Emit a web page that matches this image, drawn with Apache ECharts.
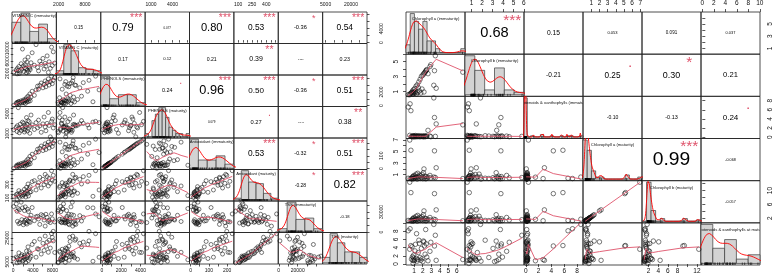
<!DOCTYPE html>
<html>
<head>
<meta charset="utf-8">
<title>chart.Correlation</title>
<script src="https://cdn.jsdelivr.net/npm/echarts@6.0.0/dist/echarts.min.js"></script>
<style>
  html, body { margin: 0; padding: 0; background: #ffffff; }
  #chart { width: 773px; height: 277px; }
</style>
</head>
<body>
<div id="chart"></div>
<script>
// ---------- left matrix: fruit quality, 45 samples ----------
const fruitNames = [
  'VITAMIN C (immaturity)', 'VITAMIN C (maturity)', 'PHENOLS (immaturity)', 'PHENOLS (maturity)',
  'Antioxidant (immaturity)', 'Antioxidant (maturity)', 'TSS (immaturity)', 'TSS (maturity)'
];
const vitcImm = [80, 620, 780, 850, 1020, 1150, 1240, 1420, 1610, 1750, 1880, 2060, 2150, 2280, 2390,
  2450, 2560, 2700, 2780, 2900, 3010, 3100, 3250, 3380, 3450, 3620, 3850, 4300, 4650, 4950,
  5150, 5400, 5700, 6050, 6280, 6500, 6650, 6900, 7150, 7300, 7550, 7800, 7950, 8150, 8450];
const vitcMat = [2400, 3100, 1850, 3600, 2900, 4200, 1950, 2700, 5100, 3300, 9800, 4400, 2600, 3800, 6300,
  4800, 3500, 2200, 5600, 3000, 7200, 2500, 4100, 3700, 3200, 5400, 8600, 4600, 11200, 3900,
  2800, 5900, 4900, 6800, 3400, 5200, 4300, 7600, 2300, 5700, 3600, 10400, 4500, 8900, 5300];
const phenImm = [40, 350, 480, 300, 520, 610, 250, 440, 700, 380, 560, 820, 420, 650, 900,
  310, 720, 1150, 540, 850, 1380, 600, 980, 1700, 700, 1250, 2100, 1500, 2300, 2850,
  2400, 2950, 3300, 2600, 3100, 3600, 2750, 3350, 3900, 3000, 3500, 4300, 3200, 3700, 4100];
const phenMat = [1800, 2300, 1450, 2600, 6150, 2100, 1200, 2900, 1650, 2250, 3300, 1900, 3100, 1350, 2700,
  1750, 2400, 4200, 2850, 1550, 3600, 2050, 3400, 1100, 2450, 4700, 2750, 1850, 3200, 2200,
  3700, 2550, 1300, 2950, 4300, 2350, 1600, 3050, 5200, 2650, 400, 3450, 3900, 2150, 2800];
const antiImm = [3, 20, 28, 18, 27, 35, 15, 24, 40, 22, 31, 45, 24, 36, 48,
  19, 40, 62, 30, 46, 75, 33, 52, 95, 38, 70, 112, 85, 125, 150,
  130, 158, 175, 140, 165, 192, 148, 180, 205, 160, 188, 228, 172, 198, 215];
const antiMat = [120, 150, 72, 160, 135, 210, 110, 175, 140, 190, 125, 155, 145, 230, 170,
  180, 115, 260, 205, 165, 310, 130, 240, 185, 270, 195, 345, 360, 220, 290,
  330, 410, 250, 380, 300, 455, 340, 420, 280, 395, 320, 510, 370, 440, 350];
const tssImm = [38000, 42000, 31000, 16000, 35000, 12500, 33000, 14000, 44500, 18500, 36000, 11000, 15000, 32000, 17500,
  37500, 13500, 19000, 12000, 34000, 16500, 30500, 15500, 21000, 14500, 25000, 36500, 17000, 22800, 23500,
  19500, 11500, 26000, 24500, 18000, 9000, 26500, 22000, 15800, 17800, 14200, 27000, 19800, 1200, 15200];
const tssMat = [7500, 9000, 4200, 8200, 6800, 12500, 4800, 7000, 9800, 11000, 5500, 6300, 8800, 10500, 7200,
  9300, 4500, 14000, 8500, 10200, 17500, 6100, 13500, 7800, 12000, 9600, 19500, 22000, 8900, 16000,
  15500, 24000, 11500, 20500, 14500, 26500, 18000, 21500, 13000, 23000, 16500, 28500, 25500, 22500, 12800];

const fruitTicks = [
  [0, 2000, 4000, 6000, 8000], [2000, 4000, 6000, 8000, 10000], [0, 1000, 2000, 3000, 4000],
  [1000, 2000, 3000, 4000, 5000, 6000], [0, 50, 100, 150, 200], [100, 150, 200, 250, 300, 350, 400, 450, 500],
  [0, 10000, 20000, 30000, 40000], [5000, 10000, 15000, 20000, 25000]
];
const fruitHLabels = [[0, 4000, 8000], [2000, 8000], [0, 2000, 4000], [1000, 4000], [0, 100, 200], [100, 250, 400], [0, 20000], [5000, 20000]];
const fruitVLabels = [[0, 4000], [2000, 6000, 10000], [0, 2000], [1000, 5000], [0, 100], [100, 300], [0, 30000], [5000, 25000]];
const fruitBreaks = [
  [0, 2000, 4000, 6000, 8000, 10000],
  [0, 2000, 4000, 6000, 8000, 10000, 12000],
  [0, 1000, 2000, 3000, 4000, 5000],
  [0, 500, 1000, 1500, 2000, 2500, 3000, 3500, 4000, 4500, 5000, 5500, 6000, 6500],
  [0, 50, 100, 150, 200, 250],
  [0, 100, 200, 300, 400, 500, 600],
  [0, 10000, 20000, 30000, 40000, 50000],
  [0, 5000, 10000, 15000, 20000, 25000, 30000]
];
const fruitCor = [
  ['', '0.15', '0.79', '0.077', '0.80', '0.53', '-0.36', '0.54'],
  ['', '', '0.17', '0.12', '0.21', '0.39', '-0.019', '0.23'],
  ['', '', '', '0.24', '0.96', '0.50', '-0.36', '0.51'],
  ['', '', '', '', '0.079', '0.27', '-0.041', '0.38'],
  ['', '', '', '', '', '0.53', '-0.32', '0.51'],
  ['', '', '', '', '', '', '-0.28', '0.82'],
  ['', '', '', '', '', '', '', '-0.18']
];
const fruitStars = [
  ['', '', '***', '', '***', '***', '*', '***'],
  ['', '', '', '', '', '**', '', ''],
  ['', '', '', '.', '***', '***', '*', '***'],
  ['', '', '', '', '', '.', '', '**'],
  ['', '', '', '', '', '***', '*', '***'],
  ['', '', '', '', '', '', '*', '***'],
  ['', '', '', '', '', '', '', '']
];

// ---------- right matrix: pigments, 42 samples ----------
const chemNames = [
  'Chlorophyll a (immaturity)', 'Chlorophyll b (immaturity)', 'Carotenoids & xanthophylls (immaturity)',
  'Chlorophyll a (maturity)', 'Chlorophyll b (maturity)', 'Carotenoids & xanthophylls at maturity'
];
const chlAImm = [0.30, 0.52, 0.62, 0.68, 0.75, 0.80, 0.84, 0.88, 0.92, 0.95, 0.98, 1.05, 1.10, 1.15,
  1.22, 1.28, 1.35, 1.42, 1.48, 1.55, 1.62, 1.70, 1.78, 1.85, 1.92, 2.02, 2.08, 2.15,
  2.20, 2.28, 2.35, 2.42, 2.48, 2.62, 2.85, 2.95, 3.30, 3.38, 3.48, 3.58, 6.70, 0.48];
const chlBImm = [0.60, 0.70, 0.78, 0.85, 0.92, 1.08, 0.66, 0.74, 1.25, 0.88, 0.95, 1.40, 0.80, 0.97,
  1.72, 0.68, 1.90, 0.90, 1.55, 2.30, 1.10, 2.65, 0.82, 3.05, 1.35, 3.20, 3.35, 0.95,
  3.50, 3.60, 3.75, 3.85, 3.95, 3.40, 4.35, 4.60, 1.85, 3.80, 5.80, 1.45, 3.60, 0.58];
const carImm = [6.60, 7.30, 5.80, 0.12, 0.20, 0.08, 0.25, 0.15, 0.30, 0.10, 0.18, 0.22, 0.05, 0.35,
  0.14, 0.28, 0.10, 0.20, 0.16, 0.32, 0.09, 0.24, 0.12, 0.18, 0.26, 0.11, 0.21, 0.07,
  0.30, 0.15, 0.13, 0.27, 0.19, 1.50, 0.23, 0.10, 8.60, 4.30, 0.17, 2.90, 2.70, 0.40];
const chlAMat = [0.40, 0.35, 5.20, 0.30, 0.45, 0.62, 0.28, 0.70, 0.38, 0.85, 0.33, 0.48, 0.78, 0.42,
  1.10, 0.55, 0.25, 1.25, 0.65, 0.40, 0.92, 0.36, 0.80, 0.50, 1.05, 0.32, 1.35, 2.00,
  0.44, 0.75, 0.30, 0.68, 0.37, 0.58, 0.88, 0.46, 0.60, 5.10, 0.52, 2.20, 0.34, 6.95];
const chlBMat = [1.35, 1.30, 9.40, 1.20, 1.45, 1.75, 1.15, 1.85, 1.30, 2.15, 1.25, 1.50, 2.00, 1.40,
  2.55, 1.60, 1.10, 2.80, 1.80, 1.35, 2.25, 1.30, 2.05, 1.55, 2.45, 1.25, 3.00, 4.10,
  1.45, 1.95, 1.20, 1.85, 1.30, 1.65, 2.20, 1.45, 1.70, 9.10, 1.55, 4.40, 1.25, 12.40];
const carMat = [8.10, 8.60, 4.50, 1.20, 4.20, 1.80, 0.90, 0.15, 1.50, 2.20, 0.80, 1.00, 3.20, 4.80,
  1.40, 7.40, 0.70, 1.10, 2.80, 5.80, 5.00, 1.60, 0.90, 3.80, 1.30, 0.60, 5.60, 5.40,
  4.40, 2.40, 8.40, 4.90, 1.70, 0.80, 3.10, 5.30, 9.65, 4.40, 7.00, 0.90, 1.10, 3.60];

const chemTicks = [[1, 2, 3, 4, 5, 6], [1, 2, 3, 4, 5, 6], [0, 2, 4, 6, 8], [1, 2, 3, 4, 5, 6, 7], [2, 4, 6, 8, 10, 12], [0, 2, 4, 6, 8, 10]];
const chemHLabels = [[1, 2, 3, 4, 5, 6], [1, 2, 3, 4, 5, 6], [0, 2, 4, 6, 8], [1, 2, 3, 4, 5, 6, 7], [2, 4, 6, 8, 12], [0, 2, 4, 6, 8, 10]];
const chemVLabels = [[1, 3, 5], [1, 3, 5], [0, 2, 4, 6, 8], [1, 3, 5, 7], [2, 6, 10], [0, 2, 4, 6, 8]];
const chemBreaks = [
  [0, 0.5, 1, 1.5, 2, 2.5, 3, 3.5, 4, 4.5, 5, 5.5, 6, 6.5, 7],
  [0, 1, 2, 3, 4, 5, 6],
  [0, 0.5, 1, 1.5, 2, 2.5, 3, 3.5, 4, 4.5, 5, 5.5, 6, 6.5, 7, 7.5, 8, 8.5, 9],
  [0, 0.5, 1, 1.5, 2, 2.5, 3, 3.5, 4, 4.5, 5, 5.5, 6, 6.5, 7],
  [0, 1, 2, 3, 4, 5, 6, 7, 8, 9, 10, 11, 12, 13],
  [0, 2, 4, 6, 8, 10]
];
const chemCor = [
  ['', '0.68', '0.15', '0.053', '0.091', '0.037'],
  ['', '', '-0.21', '0.25', '0.30', '0.21'],
  ['', '', '', '-0.10', '-0.13', '0.24'],
  ['', '', '', '', '0.99', '-0.068'],
  ['', '', '', '', '', '-0.057']
];
const chemStars = [
  ['', '***', '', '', '', ''],
  ['', '', '', '.', '*', ''],
  ['', '', '', '', '', '.'],
  ['', '', '', '', '***', ''],
  ['', '', '', '', '', '']
];

const FONT = '"Liberation Sans", Arial, sans-serif';
const measureCtx = document.createElement('canvas').getContext('2d');
measureCtx.font = '100px "Liberation Sans"';
const emWidth = t => measureCtx.measureText(t).width / 100;

// lowess (same as R stats::lowess, f = 2/3, iter = 3)
function lowess(xs, ys, f, iter) {
  const n = xs.length;
  const ord = xs.map((_, i) => i).sort((a, b) => xs[a] - xs[b]);
  const x = ord.map(i => xs[i]);
  const y = ord.map(i => ys[i]);
  const ns = Math.max(2, Math.min(n, Math.floor(f * n + 1e-7)));
  const range = x[n - 1] - x[0];
  let rw = new Array(n).fill(1);
  const fit = new Array(n).fill(0);
  for (let it = 0; it <= iter; it++) {
    let nleft = 0, nright = ns - 1;
    for (let i = 0; i < n; i++) {
      while (nright < n - 1 && x[i] - x[nleft] > x[nright + 1] - x[i]) { nleft++; nright++; }
      const h = Math.max(x[i] - x[nleft], x[nright] - x[i]);
      const h9 = 0.999 * h, h1 = 0.001 * h;
      const w = new Array(n).fill(0);
      let a = 0;
      for (let j = 0; j < n; j++) {
        const r = Math.abs(x[j] - x[i]);
        if (r <= h9) {
          w[j] = (r <= h1 ? 1 : Math.pow(1 - Math.pow(r / h, 3), 3)) * rw[j];
          a += w[j];
        }
      }
      if (a <= 0) { fit[i] = y[i]; continue; }
      for (let j = 0; j < n; j++) w[j] /= a;
      let xbar = 0;
      for (let j = 0; j < n; j++) xbar += w[j] * x[j];
      let c = 0;
      for (let j = 0; j < n; j++) c += w[j] * (x[j] - xbar) * (x[j] - xbar);
      if (h > 0 && Math.sqrt(c) > 0.001 * range) {
        const b = (x[i] - xbar) / c;
        for (let j = 0; j < n; j++) w[j] *= b * (x[j] - xbar) + 1;
      }
      let yf = 0;
      for (let j = 0; j < n; j++) yf += w[j] * y[j];
      fit[i] = yf;
    }
    if (it === iter) break;
    const res = y.map((v, i) => v - fit[i]);
    const ar = res.map(Math.abs).sort((p, q) => p - q);
    const med = n % 2 ? ar[(n - 1) / 2] : (ar[n / 2 - 1] + ar[n / 2]) / 2;
    const cmad = 6 * med;
    if (cmad <= 0) break;
    rw = res.map(r => {
      const u = Math.abs(r);
      if (u <= 0.001 * cmad) return 1;
      if (u > 0.999 * cmad) return 0;
      return Math.pow(1 - (u / cmad) * (u / cmad), 2);
    });
  }
  return x.map((v, i) => [v, fit[i]]);
}

// gaussian kernel density, bw.nrd0
function density(v) {
  const n = v.length;
  const s = v.slice().sort((a, b) => a - b);
  const mean = v.reduce((a, b) => a + b, 0) / n;
  const sd = Math.sqrt(v.reduce((a, b) => a + (b - mean) * (b - mean), 0) / (n - 1));
  const q = p => { const h = (n - 1) * p, l = Math.floor(h); return s[l] + (h - l) * (s[Math.min(l + 1, n - 1)] - s[l]); };
  let lo = Math.min(sd, (q(0.75) - q(0.25)) / 1.34);
  if (!(lo > 0)) lo = sd || Math.abs(s[0]) || 1;
  const bw = 0.9 * lo * Math.pow(n, -0.2);
  const from = s[0] - 3 * bw, to = s[n - 1] + 3 * bw;
  const pts = [];
  const steps = 480;
  for (let k = 0; k <= steps; k++) {
    const x = from + (to - from) * k / steps;
    let d = 0;
    for (const xi of v) { const z = (x - xi) / bw; d += Math.exp(-0.5 * z * z); }
    pts.push([x, d / (n * bw * Math.sqrt(2 * Math.PI))]);
  }
  return pts;
}

const grids = [], xAxes = [], yAxes = [], series = [];

function valueAxis(gi, range, side, ticks, labels, vertical, m) {
  const shown = !!side;
  return {
    type: 'value', gridIndex: gi, min: range[0], max: range[1], scale: true,
    position: side || (vertical ? 'left' : 'bottom'),
    axisLine: {show: false},
    splitLine: {show: false},
    axisTick: {show: shown, customValues: ticks, length: m.tickLen, lineStyle: {color: '#111', width: 0.7}},
    axisLabel: {
      show: shown, customValues: labels, fontSize: m.tickFont, fontFamily: FONT, color: '#111',
      margin: shown ? m.margins[side] : 0, rotate: vertical ? 90 : 0, formatter: v => String(v)
    }
  };
}

function buildMatrix(m) {
  const n = m.vars.length, cw = m.box.w / n, ch = m.box.h / n;
  const ranges = m.vars.map(v => {
    const lo = Math.min(...v), hi = Math.max(...v), pad = (hi - lo) * 0.04;
    return [lo - pad, hi + pad];
  });
  for (let i = 0; i < n; i++) {
    for (let j = 0; j < n; j++) {
      const gi = grids.length;
      grids.push({
        left: m.box.x + j * cw, top: m.box.y + i * ch, width: cw, height: ch,
        show: true, borderColor: '#222', borderWidth: 0.8, backgroundColor: 'transparent',
        containLabel: false, outerBoundsMode: 'none'
      });
      const ai = xAxes.length;
      if (i === j) {
        // histogram + density + rug + label
        const v = m.vars[i], br = m.breaks[i], bw = br[1] - br[0];
        const counts = br.slice(0, -1).map(() => 0);
        v.forEach(val => {
          let b = Math.ceil((val - br[0]) / bw - 1e-9) - 1;
          counts[Math.max(0, Math.min(b, counts.length - 1))]++;
        });
        const maxC = Math.max(...counts);
        const hide = {show: false};
        xAxes.push({type: 'value', gridIndex: gi, min: br[0], max: br[br.length - 1], axisLine: hide, axisTick: hide, axisLabel: hide, splitLine: hide});
        yAxes.push({type: 'value', gridIndex: gi, min: -0.04 * maxC, max: 1.04 * maxC, axisLine: hide, axisTick: hide, axisLabel: hide, splitLine: hide});
        series.push({
          type: 'custom', xAxisIndex: ai, yAxisIndex: ai, silent: true, z: 2,
          data: counts.map((c, k) => [br[k], br[k + 1], c]),
          encode: {x: [0, 1], y: 2},
          renderItem: (p, api) => {
            const a = api.coord([api.value(0), api.value(2)]);
            const b = api.coord([api.value(1), 0]);
            return {type: 'rect', shape: {x: a[0], y: a[1], width: b[0] - a[0], height: b[1] - a[1]},
              style: {fill: '#D3D3D3', stroke: '#3a3a3a', lineWidth: 0.7}};
          }
        });
        series.push({
          type: 'custom', xAxisIndex: ai, yAxisIndex: ai, silent: true, z: 3,
          data: v.map(x => [x, 0]),
          renderItem: (p, api) => {
            const cs = p.coordSys;
            const px = api.coord([api.value(0), 0])[0];
            const yb = cs.y + cs.height;
            return {type: 'line', shape: {x1: px, y1: yb, x2: px, y2: yb - m.rug}, style: {stroke: '#000', lineWidth: 0.6}};
          }
        });
        series.push({
          type: 'line', xAxisIndex: ai, yAxisIndex: ai, silent: true, z: 4, clip: true,
          showSymbol: false, symbol: 'none',
          data: density(v).map(d => [d[0], d[1] * v.length * bw]),
          lineStyle: {color: '#FF0000', width: 0.9}
        });
        const name = m.names[i];
        series.push({
          type: 'custom', xAxisIndex: ai, yAxisIndex: ai, silent: true, z: 5,
          data: [[br[0], 0]],
          renderItem: (p) => {
            const cs = p.coordSys;
            return {
              type: 'group',
              clipPath: {type: 'rect', shape: {x: cs.x, y: cs.y, width: cs.width, height: cs.height}},
              children: [{
                type: 'text', x: cs.x + cs.width / 2, y: cs.y + cs.height * m.labelY,
                style: {text: name, fontSize: m.labelFont, fontFamily: FONT, fill: '#111', align: 'center', verticalAlign: 'middle'}
              }]
            };
          }
        });
        continue;
      }
      let xSide = null, ySide = null;
      if (i === 0 && j % 2 === 1) xSide = 'top';
      if (i === n - 1 && j % 2 === 0) xSide = 'bottom';
      if (j === 0 && i % 2 === 1) ySide = 'left';
      if (j === n - 1 && i % 2 === 0) ySide = 'right';
      xAxes.push(valueAxis(gi, ranges[j], xSide, m.ticks[j], m.hLabels[j], false, m));
      yAxes.push(valueAxis(gi, ranges[i], ySide, m.ticks[i], m.vLabels[i], true, m));
      if (i > j) {
        series.push({
          type: 'scatter', xAxisIndex: ai, yAxisIndex: ai, silent: true, z: 3,
          data: m.vars[j].map((x, k) => [x, m.vars[i][k]]),
          symbol: 'circle', symbolSize: m.symbolSize,
          itemStyle: {color: 'rgba(0,0,0,0)', borderColor: '#111', borderWidth: 0.7}
        });
        series.push({
          type: 'line', xAxisIndex: ai, yAxisIndex: ai, silent: true, z: 4, clip: true,
          showSymbol: false, symbol: 'none',
          data: lowess(m.vars[j], m.vars[i], 2 / 3, 3),
          lineStyle: {color: '#DF536B', width: 0.9}
        });
      } else {
        const txt = m.cor[i][j], star = m.stars[i][j];
        const r = Math.abs(parseFloat(txt));
        const base = 0.8 * cw / emWidth(txt) * m.k;
        const numSize = base * (r + 0.3) / 1.3;
        const starSize = base * 0.8;
        const xr = ranges[j], yr = ranges[i];
        series.push({
          type: 'custom', xAxisIndex: ai, yAxisIndex: ai, silent: true, z: 5,
          data: [[xr[0] + 0.5 * (xr[1] - xr[0]), yr[0] + 0.5 * (yr[1] - yr[0]),
                  xr[0] + 0.8 * (xr[1] - xr[0]), yr[0] + 0.8 * (yr[1] - yr[0])]],
          encode: {x: [0, 2], y: [1, 3]},
          renderItem: (p, api) => {
            const c = api.coord([api.value(0), api.value(1)]);
            const s = api.coord([api.value(2), api.value(3)]);
            return {
              type: 'group',
              children: [
                {type: 'text', x: c[0], y: c[1], style: {text: txt, fontSize: numSize, fontFamily: FONT, fill: '#000', align: 'center', verticalAlign: 'middle'}},
                {type: 'text', x: s[0], y: s[1], style: {text: star, fontSize: starSize, fontFamily: FONT, fill: '#DF536B', align: 'center', verticalAlign: 'middle'}}
              ]
            };
          }
        });
      }
    }
  }
}

buildMatrix({
  box: {x: 12, y: 12, w: 355, h: 252},
  vars: [vitcImm, vitcMat, phenImm, phenMat, antiImm, antiMat, tssImm, tssMat],
  names: fruitNames, ticks: fruitTicks, hLabels: fruitHLabels, vLabels: fruitVLabels,
  breaks: fruitBreaks, cor: fruitCor, stars: fruitStars,
  k: 0.72, tickFont: 5, tickLen: 2.5, margins: {top: 4.5, bottom: 4.5, left: 2, right: 12},
  symbolSize: 4, labelFont: 4.2, labelY: 0.13, rug: 2
});
buildMatrix({
  box: {x: 406, y: 12, w: 354, h: 253},
  vars: [chlAImm, chlBImm, carImm, chlAMat, chlBMat, carMat],
  names: chemNames, ticks: chemTicks, hLabels: chemHLabels, vLabels: chemVLabels,
  breaks: chemBreaks, cor: chemCor, stars: chemStars,
  k: 0.8, tickFont: 6.5, tickLen: 3, margins: {top: 5, bottom: 3, left: 6.5, right: 6.5},
  symbolSize: 4.5, labelFont: 4.2, labelY: 0.16, rug: 2.5
});

const chart = echarts.init(document.getElementById('chart'), null, {renderer: 'canvas'});
chart.setOption({
  animation: false,
  backgroundColor: '#ffffff',
  textStyle: {fontFamily: FONT},
  grid: grids,
  xAxis: xAxes,
  yAxis: yAxes,
  series: series
});
</script>
</body>
</html>
